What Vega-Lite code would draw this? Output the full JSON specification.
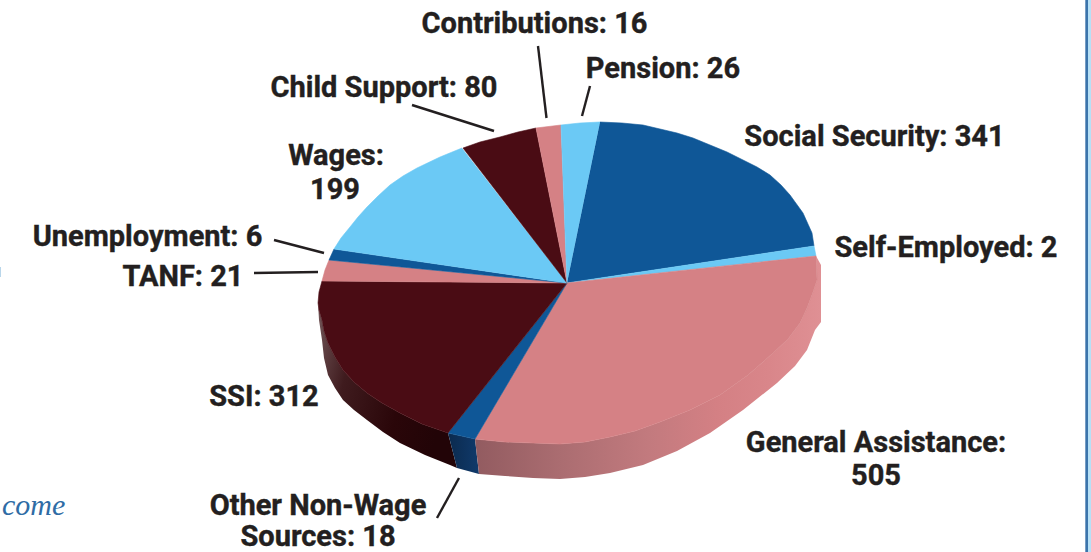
{
  "$schema": "https://vega.github.io/schema/vega-lite/v6.json",
  "width": 1091,
  "height": 552,
  "autosize": {"type": "fit", "contains": "padding"},
  "padding": 0,
  "background": "#ffffff",
  "config": {"view": {"stroke": null}},
  "datasets": {
    "frame": [
      {"part": "edge", "x": 1085.3, "x2": 1088, "y": 0, "y2": 552, "tone": "#3b74ab"},
      {"part": "band", "x": 1088, "x2": 1091, "y": 0, "y2": 552, "tone": "#b6e0f6"},
      {"part": "tick", "x": 0, "x2": 1, "y": 267, "y2": 277, "tone": "#b9d6ea"}
    ],
    "wall": [
      {"slice": "SSI", "i": 0, "x": 318, "y": 303}, {"slice": "SSI", "i": 1, "x": 319, "y": 310},
      {"slice": "SSI", "i": 2, "x": 322, "y": 320}, {"slice": "SSI", "i": 3, "x": 324, "y": 331},
      {"slice": "SSI", "i": 4, "x": 328, "y": 343}, {"slice": "SSI", "i": 5, "x": 335, "y": 357},
      {"slice": "SSI", "i": 6, "x": 343, "y": 370}, {"slice": "SSI", "i": 7, "x": 354, "y": 382},
      {"slice": "SSI", "i": 8, "x": 367, "y": 393}, {"slice": "SSI", "i": 9, "x": 382, "y": 403},
      {"slice": "SSI", "i": 10, "x": 400, "y": 413}, {"slice": "SSI", "i": 11, "x": 422, "y": 424},
      {"slice": "SSI", "i": 12, "x": 448, "y": 433}, {"slice": "SSI", "i": 13, "x": 457, "y": 468},
      {"slice": "SSI", "i": 14, "x": 450, "y": 465}, {"slice": "SSI", "i": 15, "x": 425, "y": 455},
      {"slice": "SSI", "i": 16, "x": 400, "y": 443}, {"slice": "SSI", "i": 17, "x": 383, "y": 432},
      {"slice": "SSI", "i": 18, "x": 367, "y": 420}, {"slice": "SSI", "i": 19, "x": 354, "y": 410},
      {"slice": "SSI", "i": 20, "x": 343, "y": 400}, {"slice": "SSI", "i": 21, "x": 335, "y": 388},
      {"slice": "SSI", "i": 22, "x": 328, "y": 375}, {"slice": "SSI", "i": 23, "x": 324, "y": 358},
      {"slice": "SSI", "i": 24, "x": 322, "y": 340}, {"slice": "SSI", "i": 25, "x": 319, "y": 320},
      {"slice": "Other", "i": 0, "x": 448, "y": 433}, {"slice": "Other", "i": 1, "x": 475, "y": 439},
      {"slice": "Other", "i": 2, "x": 479, "y": 474}, {"slice": "Other", "i": 3, "x": 457, "y": 468},
      {"slice": "GA", "i": 0, "x": 816, "y": 256}, {"slice": "GA", "i": 1, "x": 817, "y": 280},
      {"slice": "GA", "i": 2, "x": 813, "y": 292}, {"slice": "GA", "i": 3, "x": 807, "y": 308},
      {"slice": "GA", "i": 4, "x": 800, "y": 323}, {"slice": "GA", "i": 5, "x": 788, "y": 339},
      {"slice": "GA", "i": 6, "x": 773, "y": 353}, {"slice": "GA", "i": 7, "x": 748, "y": 375},
      {"slice": "GA", "i": 8, "x": 720, "y": 395}, {"slice": "GA", "i": 9, "x": 690, "y": 410},
      {"slice": "GA", "i": 10, "x": 660, "y": 422}, {"slice": "GA", "i": 11, "x": 635, "y": 431},
      {"slice": "GA", "i": 12, "x": 610, "y": 437}, {"slice": "GA", "i": 13, "x": 585, "y": 442},
      {"slice": "GA", "i": 14, "x": 560, "y": 444}, {"slice": "GA", "i": 15, "x": 533, "y": 443},
      {"slice": "GA", "i": 16, "x": 505, "y": 442}, {"slice": "GA", "i": 17, "x": 475, "y": 439},
      {"slice": "GA", "i": 18, "x": 479, "y": 474}, {"slice": "GA", "i": 19, "x": 505, "y": 476},
      {"slice": "GA", "i": 20, "x": 533, "y": 478}, {"slice": "GA", "i": 21, "x": 560, "y": 479},
      {"slice": "GA", "i": 22, "x": 585, "y": 477}, {"slice": "GA", "i": 23, "x": 610, "y": 473},
      {"slice": "GA", "i": 24, "x": 643, "y": 465}, {"slice": "GA", "i": 25, "x": 677, "y": 451},
      {"slice": "GA", "i": 26, "x": 710, "y": 433}, {"slice": "GA", "i": 27, "x": 743, "y": 410},
      {"slice": "GA", "i": 28, "x": 777, "y": 383}, {"slice": "GA", "i": 29, "x": 795, "y": 366},
      {"slice": "GA", "i": 30, "x": 807, "y": 350}, {"slice": "GA", "i": 31, "x": 815, "y": 330},
      {"slice": "GA", "i": 32, "x": 821, "y": 322}, {"slice": "GA", "i": 33, "x": 821, "y": 265}
    ],
    "top": [
      {"slice": "Social Security", "i": 0, "x": 567, "y": 283}, {"slice": "Social Security", "i": 1, "x": 600, "y": 122},
      {"slice": "Social Security", "i": 2, "x": 622, "y": 123}, {"slice": "Social Security", "i": 3, "x": 643, "y": 125},
      {"slice": "Social Security", "i": 4, "x": 660, "y": 129}, {"slice": "Social Security", "i": 5, "x": 677, "y": 133},
      {"slice": "Social Security", "i": 6, "x": 693, "y": 138}, {"slice": "Social Security", "i": 7, "x": 710, "y": 145},
      {"slice": "Social Security", "i": 8, "x": 727, "y": 152}, {"slice": "Social Security", "i": 9, "x": 743, "y": 160},
      {"slice": "Social Security", "i": 10, "x": 757, "y": 167}, {"slice": "Social Security", "i": 11, "x": 770, "y": 175},
      {"slice": "Social Security", "i": 12, "x": 781, "y": 185}, {"slice": "Social Security", "i": 13, "x": 790, "y": 195},
      {"slice": "Social Security", "i": 14, "x": 803, "y": 213}, {"slice": "Social Security", "i": 15, "x": 812, "y": 233},
      {"slice": "Social Security", "i": 16, "x": 814, "y": 246},
      {"slice": "Self-Employed", "i": 0, "x": 567, "y": 283}, {"slice": "Self-Employed", "i": 1, "x": 814, "y": 246},
      {"slice": "Self-Employed", "i": 2, "x": 816, "y": 256},
      {"slice": "General Assistance", "i": 0, "x": 567, "y": 283}, {"slice": "General Assistance", "i": 1, "x": 816, "y": 256},
      {"slice": "General Assistance", "i": 2, "x": 817, "y": 280}, {"slice": "General Assistance", "i": 3, "x": 813, "y": 292},
      {"slice": "General Assistance", "i": 4, "x": 807, "y": 308}, {"slice": "General Assistance", "i": 5, "x": 800, "y": 323},
      {"slice": "General Assistance", "i": 6, "x": 788, "y": 339}, {"slice": "General Assistance", "i": 7, "x": 773, "y": 353},
      {"slice": "General Assistance", "i": 8, "x": 748, "y": 375}, {"slice": "General Assistance", "i": 9, "x": 720, "y": 395},
      {"slice": "General Assistance", "i": 10, "x": 690, "y": 410}, {"slice": "General Assistance", "i": 11, "x": 660, "y": 422},
      {"slice": "General Assistance", "i": 12, "x": 635, "y": 431}, {"slice": "General Assistance", "i": 13, "x": 610, "y": 437},
      {"slice": "General Assistance", "i": 14, "x": 585, "y": 442}, {"slice": "General Assistance", "i": 15, "x": 560, "y": 444},
      {"slice": "General Assistance", "i": 16, "x": 533, "y": 443}, {"slice": "General Assistance", "i": 17, "x": 505, "y": 442},
      {"slice": "General Assistance", "i": 18, "x": 475, "y": 439},
      {"slice": "Other Non-Wage Sources", "i": 0, "x": 567, "y": 283}, {"slice": "Other Non-Wage Sources", "i": 1, "x": 475, "y": 439},
      {"slice": "Other Non-Wage Sources", "i": 2, "x": 448, "y": 433},
      {"slice": "SSI", "i": 0, "x": 567, "y": 283}, {"slice": "SSI", "i": 1, "x": 448, "y": 433},
      {"slice": "SSI", "i": 2, "x": 422, "y": 424}, {"slice": "SSI", "i": 3, "x": 400, "y": 413},
      {"slice": "SSI", "i": 4, "x": 382, "y": 403}, {"slice": "SSI", "i": 5, "x": 367, "y": 393},
      {"slice": "SSI", "i": 6, "x": 354, "y": 382}, {"slice": "SSI", "i": 7, "x": 343, "y": 370},
      {"slice": "SSI", "i": 8, "x": 335, "y": 357}, {"slice": "SSI", "i": 9, "x": 328, "y": 343},
      {"slice": "SSI", "i": 10, "x": 324, "y": 331}, {"slice": "SSI", "i": 11, "x": 322, "y": 320},
      {"slice": "SSI", "i": 12, "x": 319, "y": 310}, {"slice": "SSI", "i": 13, "x": 318, "y": 303},
      {"slice": "SSI", "i": 14, "x": 319, "y": 292}, {"slice": "SSI", "i": 15, "x": 322, "y": 281},
      {"slice": "TANF", "i": 0, "x": 567, "y": 283}, {"slice": "TANF", "i": 1, "x": 322, "y": 281},
      {"slice": "TANF", "i": 2, "x": 325, "y": 270}, {"slice": "TANF", "i": 3, "x": 329, "y": 260},
      {"slice": "Unemployment", "i": 0, "x": 567, "y": 283}, {"slice": "Unemployment", "i": 1, "x": 329, "y": 260},
      {"slice": "Unemployment", "i": 2, "x": 334, "y": 249},
      {"slice": "Wages", "i": 0, "x": 567, "y": 283}, {"slice": "Wages", "i": 1, "x": 334, "y": 249},
      {"slice": "Wages", "i": 2, "x": 341, "y": 238}, {"slice": "Wages", "i": 3, "x": 350, "y": 227},
      {"slice": "Wages", "i": 4, "x": 358, "y": 217}, {"slice": "Wages", "i": 5, "x": 367, "y": 207},
      {"slice": "Wages", "i": 6, "x": 378, "y": 196}, {"slice": "Wages", "i": 7, "x": 390, "y": 185},
      {"slice": "Wages", "i": 8, "x": 403, "y": 176}, {"slice": "Wages", "i": 9, "x": 417, "y": 168},
      {"slice": "Wages", "i": 10, "x": 440, "y": 157}, {"slice": "Wages", "i": 11, "x": 462, "y": 148},
      {"slice": "Child Support", "i": 0, "x": 567, "y": 283}, {"slice": "Child Support", "i": 1, "x": 463, "y": 148},
      {"slice": "Child Support", "i": 2, "x": 480, "y": 142}, {"slice": "Child Support", "i": 3, "x": 500, "y": 137},
      {"slice": "Child Support", "i": 4, "x": 518, "y": 132}, {"slice": "Child Support", "i": 5, "x": 536, "y": 128},
      {"slice": "Contributions", "i": 0, "x": 567, "y": 283}, {"slice": "Contributions", "i": 1, "x": 536, "y": 128},
      {"slice": "Contributions", "i": 2, "x": 561, "y": 125},
      {"slice": "Pension", "i": 0, "x": 567, "y": 283}, {"slice": "Pension", "i": 1, "x": 561, "y": 125},
      {"slice": "Pension", "i": 2, "x": 580, "y": 123}, {"slice": "Pension", "i": 3, "x": 600, "y": 122}
    ],
    "leaders": [
      {"slice": "Contributions", "x": 538, "y": 46, "x2": 546.5, "y2": 118},
      {"slice": "Pension", "x": 590, "y": 86, "x2": 582, "y2": 116},
      {"slice": "Child Support", "x": 412, "y": 105, "x2": 494, "y2": 131},
      {"slice": "Unemployment", "x": 274, "y": 240, "x2": 324, "y2": 253},
      {"slice": "TANF", "x": 254, "y": 273, "x2": 318, "y2": 272},
      {"slice": "Other Non-Wage Sources", "x": 437, "y": 518, "x2": 459, "y2": 478}
    ],
    "labels": [
      {"line": "Contributions: 16", "x": 534.5, "y": 33},
      {"line": "Pension: 26", "x": 663, "y": 78},
      {"line": "Child Support: 80", "x": 384, "y": 97},
      {"line": "Social Security: 341", "x": 874.5, "y": 146},
      {"line": "Wages:", "x": 336, "y": 165},
      {"line": "199", "x": 335, "y": 199},
      {"line": "Self-Employed: 2", "x": 946, "y": 257},
      {"line": "Unemployment: 6", "x": 147.5, "y": 246},
      {"line": "TANF: 21", "x": 183, "y": 286},
      {"line": "SSI: 312", "x": 264, "y": 406},
      {"line": "General Assistance:", "x": 876, "y": 452},
      {"line": "505", "x": 876, "y": 485},
      {"line": "Other Non-Wage", "x": 318, "y": 515},
      {"line": "Sources: 18", "x": 318, "y": 546}
    ]
  },
  "encoding": {
    "x": {"type": "quantitative", "scale": {"domain": [0, 1091], "nice": false, "zero": false}, "axis": null},
    "y": {"type": "quantitative", "scale": {"domain": [552, 0], "nice": false, "zero": false}, "axis": null}
  },
  "layer": [
    {
      "data": {"name": "frame"},
      "mark": {"type": "rect"},
      "encoding": {
        "x": {"field": "x", "type": "quantitative"},
        "x2": {"field": "x2"},
        "y": {"field": "y", "type": "quantitative"},
        "y2": {"field": "y2"},
        "color": {"field": "tone", "type": "nominal", "scale": null}
      }
    },
    {
      "data": {"name": "wall"},
      "transform": [{"filter": "datum.slice === 'SSI'"}],
      "mark": {
        "type": "line",
        "strokeWidth": 0,
        "fill": {
          "gradient": "linear", "x1": 0, "y1": 0, "x2": 1, "y2": 0.3,
          "stops": [
            {"offset": 0, "color": "#74585a"},
            {"offset": 0.3, "color": "#3f1b1e"},
            {"offset": 0.7, "color": "#2a0609"},
            {"offset": 1, "color": "#220407"}
          ]
        }
      },
      "encoding": {
        "x": {"field": "x", "type": "quantitative"},
        "y": {"field": "y", "type": "quantitative"},
        "order": {"field": "i", "type": "quantitative"}
      }
    },
    {
      "data": {"name": "wall"},
      "transform": [{"filter": "datum.slice === 'Other'"}],
      "mark": {
        "type": "line",
        "strokeWidth": 0,
        "fill": {
          "gradient": "linear", "x1": 0, "y1": 0, "x2": 1, "y2": 0,
          "stops": [
            {"offset": 0, "color": "#0b2a4e"},
            {"offset": 1, "color": "#103a6b"}
          ]
        }
      },
      "encoding": {
        "x": {"field": "x", "type": "quantitative"},
        "y": {"field": "y", "type": "quantitative"},
        "order": {"field": "i", "type": "quantitative"}
      }
    },
    {
      "data": {"name": "wall"},
      "transform": [{"filter": "datum.slice === 'GA'"}],
      "mark": {
        "type": "line",
        "strokeWidth": 0,
        "fill": {
          "gradient": "linear", "x1": 0, "y1": 0, "x2": 1, "y2": 0,
          "stops": [
            {"offset": 0, "color": "#925b60"},
            {"offset": 0.25, "color": "#ab6d71"},
            {"offset": 0.5, "color": "#c27a7e"},
            {"offset": 0.7, "color": "#d48084"},
            {"offset": 0.85, "color": "#d9868a"},
            {"offset": 1, "color": "#df9094"}
          ]
        }
      },
      "encoding": {
        "x": {"field": "x", "type": "quantitative"},
        "y": {"field": "y", "type": "quantitative"},
        "order": {"field": "i", "type": "quantitative"}
      }
    },
    {
      "data": {"name": "top"},
      "mark": {"type": "line", "strokeWidth": 0.6},
      "encoding": {
        "x": {"field": "x", "type": "quantitative"},
        "y": {"field": "y", "type": "quantitative"},
        "order": {"field": "i", "type": "quantitative"},
        "detail": {"field": "slice", "type": "nominal"},
        "fill": {
          "field": "slice", "type": "nominal", "legend": null,
          "scale": {
            "domain": ["Social Security", "Self-Employed", "General Assistance", "Other Non-Wage Sources", "SSI", "TANF", "Unemployment", "Wages", "Child Support", "Contributions", "Pension"],
            "range": ["#0f5797", "#6bc9f5", "#d58185", "#0f5797", "#4a0c14", "#d58185", "#0f5797", "#6bc9f5", "#4a0c14", "#d58185", "#6bc9f5"]
          }
        },
        "stroke": {
          "field": "slice", "type": "nominal", "legend": null,
          "scale": {
            "domain": ["Social Security", "Self-Employed", "General Assistance", "Other Non-Wage Sources", "SSI", "TANF", "Unemployment", "Wages", "Child Support", "Contributions", "Pension"],
            "range": ["#0f5797", "#6bc9f5", "#d58185", "#0f5797", "#4a0c14", "#d58185", "#0f5797", "#6bc9f5", "#4a0c14", "#d58185", "#6bc9f5"]
          }
        }
      }
    },
    {
      "data": {"name": "leaders"},
      "mark": {"type": "rule", "color": "#231f20", "strokeWidth": 2.4},
      "encoding": {
        "x": {"field": "x", "type": "quantitative"},
        "y": {"field": "y", "type": "quantitative"},
        "x2": {"field": "x2"},
        "y2": {"field": "y2"}
      }
    },
    {
      "data": {"name": "labels"},
      "mark": {"type": "text", "font": "Roboto", "fontWeight": "bold", "fontSize": 29, "color": "#231f20", "stroke": "#231f20", "strokeWidth": 0.4, "align": "center", "baseline": "alphabetic"},
      "encoding": {
        "x": {"field": "x", "type": "quantitative"},
        "y": {"field": "y", "type": "quantitative"},
        "text": {"field": "line", "type": "nominal"}
      }
    },
    {
      "data": {"values": [{"line": "come", "x": 2, "y": 515}]},
      "mark": {"type": "text", "font": "Liberation Serif", "fontStyle": "italic", "fontSize": 30, "color": "#2f6ca5", "align": "left", "baseline": "alphabetic"},
      "encoding": {
        "x": {"field": "x", "type": "quantitative"},
        "y": {"field": "y", "type": "quantitative"},
        "text": {"field": "line", "type": "nominal"}
      }
    }
  ]
}
